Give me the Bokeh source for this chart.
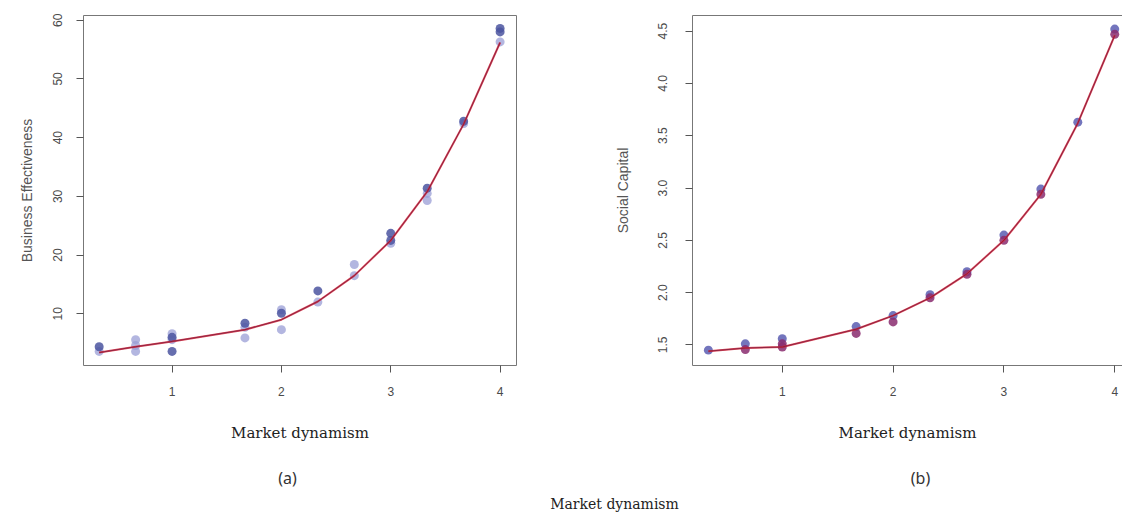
from bokeh.plotting import figure
from bokeh.layouts import row, column
from bokeh.models import Range1d, FixedTicker, NumeralTickFormatter, LinearAxis
from bokeh.embed import file_html
from bokeh.resources import INLINE
from bokeh.core.properties import value

# ---------------- data ----------------
market_levels = [1/3, 2/3, 1, 5/3, 2, 7/3, 8/3, 3, 10/3, 11/3, 4]
x_tick_values = [1, 2, 3, 4]

# (a) Business Effectiveness
be_fit = [3.4, 4.4, 5.3, 7.3, 9.0, 12.1, 16.5, 22.5, 30.8, 42.3, 56.2]
be_dark_x = [1/3, 1, 1, 5/3, 2, 7/3, 3, 3, 10/3, 11/3, 4, 4]
be_dark_y = [4.4, 3.6, 6.0, 8.4, 10.1, 13.9, 23.7, 22.5, 31.4, 42.8, 58.6, 58.0]
be_light_x = [1/3, 2/3, 2/3, 2/3, 1, 1, 5/3, 5/3, 2, 2, 7/3, 8/3, 8/3, 3, 10/3, 10/3, 11/3, 4]
be_light_y = [3.6, 5.6, 3.6, 4.6, 6.6, 5.6, 5.9, 7.7, 10.7, 7.3, 12.0, 18.4, 16.5, 22.0, 30.5, 29.3, 42.4, 56.3]
be_y_ticks = [10, 20, 30, 40, 50, 60]

# (b) Social Capital
sc_fit = [1.44, 1.47, 1.48, 1.65, 1.78, 1.95, 2.18, 2.50, 2.94, 3.62, 4.46]
sc_blue_x = [1/3, 2/3, 1, 5/3, 2, 7/3, 8/3, 3, 10/3, 11/3, 4]
sc_blue_y = [1.45, 1.51, 1.56, 1.675, 1.78, 1.98, 2.20, 2.55, 2.99, 3.63, 4.52]
sc_mag_x = [2/3, 1, 1, 5/3, 2, 7/3, 8/3, 3, 10/3, 4]
sc_mag_y = [1.455, 1.51, 1.48, 1.61, 1.72, 1.95, 2.175, 2.50, 2.94, 4.47]
sc_y_ticks = [1.5, 2.0, 2.5, 3.0, 3.5, 4.0, 4.5]

x_title = "Market dynamism"
panel_labels = ["(a)", "(b)"]

TICK_FONT = "Liberation Sans"
TICK_COLOR = "#4a4a4a"
FRAME_COLOR = "#777777"


def style_axes(p, x_standoff, x_label_standoff, y_standoff, y_label_standoff, y_title):
    for ax in (p.xaxis[0], p.yaxis[0]):
        ax.major_tick_out = 7
        ax.major_tick_in = 0
        ax.minor_tick_line_color = None
        ax.major_tick_line_color = "#555555"
        ax.major_label_text_font = TICK_FONT
        ax.major_label_text_font_size = "12px"
        ax.major_label_text_color = TICK_COLOR
    p.xaxis[0].ticker = FixedTicker(ticks=x_tick_values)
    p.xaxis[0].major_label_standoff = x_standoff
    p.xaxis[0].axis_label = x_title
    p.xaxis[0].axis_label_text_font = "DejaVu Serif"
    p.xaxis[0].axis_label_text_font_size = "15px"
    p.xaxis[0].axis_label_text_font_style = "normal"
    p.xaxis[0].axis_label_text_color = "#222222"
    p.xaxis[0].axis_label_standoff = x_label_standoff
    p.yaxis[0].major_label_orientation = "vertical"
    p.yaxis[0].major_label_standoff = y_standoff
    p.yaxis[0].axis_label = y_title
    p.yaxis[0].axis_label_text_font = TICK_FONT
    p.yaxis[0].axis_label_text_font_size = "14px"
    p.yaxis[0].axis_label_text_font_style = "normal"
    p.yaxis[0].axis_label_text_color = "#555555"
    p.yaxis[0].axis_label_standoff = y_label_standoff
    p.grid.visible = False


def draw_fit(p, xs, ys):
    p.line(xs, ys, line_color="#d8283c", line_width=2.0, line_alpha=0.85)
    p.line(xs, ys, line_color="#7a1c3c", line_width=0.8)


# ---------------- panel (a) ----------------
p1 = figure(width=560, height=460, output_backend="svg", toolbar_location=None,
            x_range=Range1d(0.19, 4.15), y_range=Range1d(1.2, 60.8),
            min_border_left=83, min_border_right=44, min_border_top=15, min_border_bottom=95)
p1.outline_line_color = FRAME_COLOR
p1.outline_line_width = 1
p1.xaxis.axis_line_color = None
p1.yaxis.axis_line_color = None
style_axes(p1, 14, 25, 14, 16, "Business Effectiveness")
p1.yaxis[0].ticker = FixedTicker(ticks=be_y_ticks)
p1.yaxis[0].formatter = NumeralTickFormatter(format="0")

p1.scatter(be_light_x, be_light_y, size=9, color="#9a9dd6", alpha=0.75, line_color=None)
p1.scatter(be_dark_x, be_dark_y, size=9, color="#4b55a0", alpha=0.85, line_color=None)
draw_fit(p1, market_levels, be_fit)

# ---------------- panel (b) ----------------
p2 = figure(width=562, height=460, output_backend="svg", toolbar_location=None,
            x_range=Range1d(0.19, 4.07), y_range=Range1d(1.303, 4.65),
            min_border_left=132, min_border_right=0, min_border_top=12, min_border_bottom=92)
p2.outline_line_color = None
p2.xaxis.axis_line_color = FRAME_COLOR
p2.yaxis.axis_line_color = FRAME_COLOR
style_axes(p2, 14, 25, 18, 25, "Social Capital")
p2.yaxis[0].ticker = FixedTicker(ticks=sc_y_ticks)
p2.yaxis[0].formatter = NumeralTickFormatter(format="0.0")
top_edge = LinearAxis(ticker=FixedTicker(ticks=[]), major_tick_out=0, major_tick_in=0,
                      minor_tick_out=0, minor_tick_in=0, major_label_standoff=0,
                      axis_line_color=FRAME_COLOR, axis_line_width=1)
p2.add_layout(top_edge, "above")

p2.scatter(sc_blue_x, sc_blue_y, size=9, color="#5a5db2", alpha=0.85, line_color=None)
p2.scatter(sc_mag_x, sc_mag_y, size=9, color="#8a2c6e", alpha=0.85, line_color=None)
draw_fit(p2, market_levels, sc_fit)

# ---------------- caption strip ----------------
p3 = figure(width=1122, height=53, output_backend="svg", toolbar_location=None,
            x_range=Range1d(0, 1122), y_range=Range1d(0, 53),
            x_axis_type=None, y_axis_type=None,
            min_border_left=0, min_border_right=0, min_border_top=0, min_border_bottom=0)
p3.outline_line_color = None
p3.grid.visible = False
p3.text(x=[287, 920], y=[36, 36], text=panel_labels, text_align="center", text_baseline="middle",
        text_font=value("Noto Sans"), text_font_size="16px", text_color="#333333")
p3.text(x=[614], y=[10], text=[x_title], text_align="center", text_baseline="middle",
        text_font=value("DejaVu Serif"), text_font_size="14px", text_color="#222222")

layout = column(row(p1, p2, spacing=0), p3, spacing=0)
open("out.html", "w").write(file_html(layout, INLINE))
